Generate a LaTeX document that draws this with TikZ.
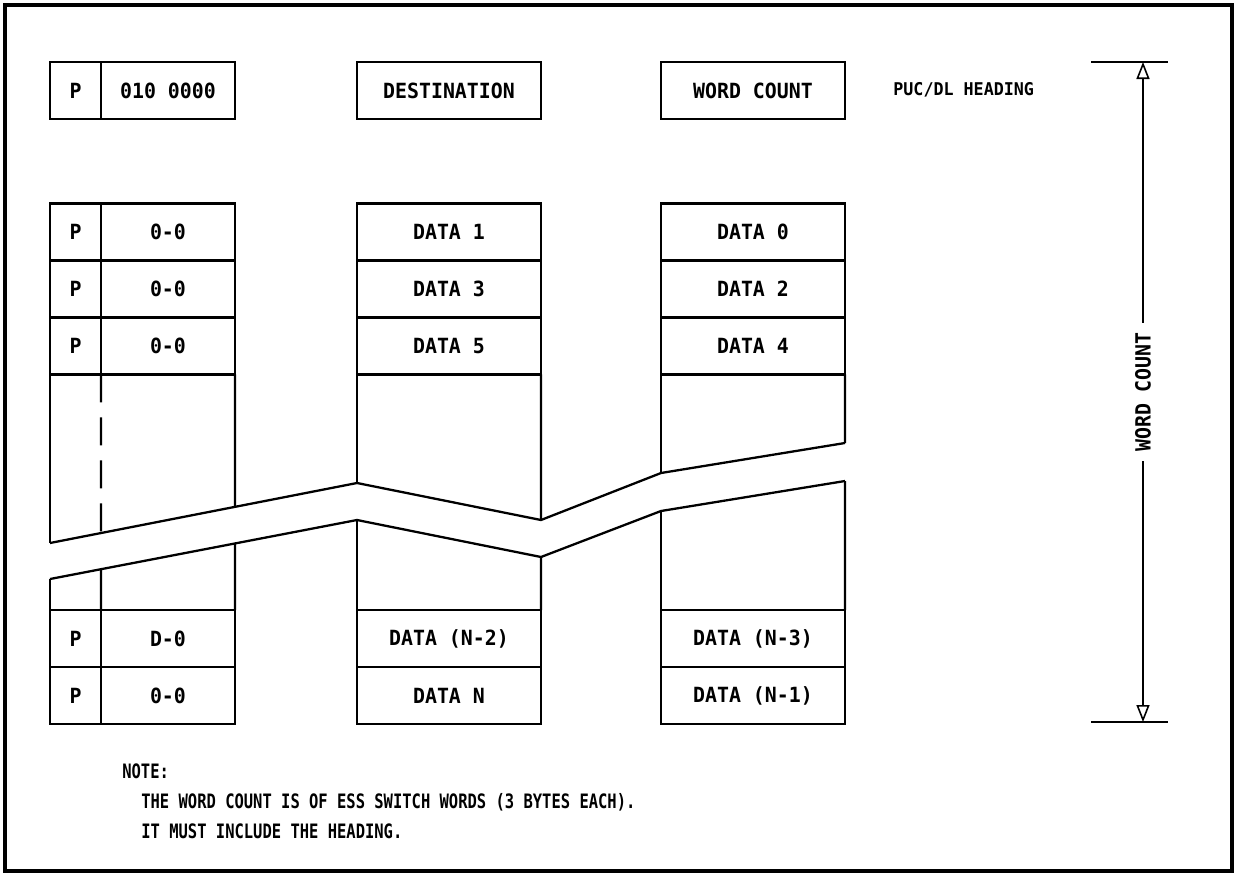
\documentclass[tikz,border=0pt]{standalone}
\usepackage{fontspec}
\newfontfamily\plotfont[FakeStretch=0.95]{DejaVu Sans Mono}
\newfontfamily\notefont[FakeStretch=0.78]{DejaVu Sans Mono}
\usetikzlibrary{arrows.meta, positioning, calc}
\tikzset{
  cell/.style={draw, line width=1.3pt, outer sep=0pt, inner sep=0pt, minimum height=1.14cm,
    font=\plotfont\bfseries\fontsize{11.9}{14}\selectfont},
  bitcell/.style={cell, minimum width=1.02cm},
  valcell/.style={cell, minimum width=2.68cm},
  datacell/.style={cell, minimum width=3.68cm},
  body/.style={line width=1.3pt},
  note/.style={font=\notefont\bfseries\fontsize{11.3}{13}\selectfont, anchor=base west, inner sep=0pt},
  dimlabel/.style={font=\plotfont\bfseries\fontsize{11.9}{14}\selectfont, rotate=90, inner xsep=0.18cm, inner ysep=0pt},
  dimarrow/.style={line width=0.9pt, -{Triangle[open, length=0.34cm, width=0.26cm, line width=0.9pt]}},
}
\begin{document}
\begin{tikzpicture}[x=0.02cm, y=-0.02cm]
  \useasboundingbox (0,0) rectangle (1235,873);
  \draw[line width=2pt] (5,5) rectangle (1232,871);

  \node[bitcell, anchor=north west] (hbit) at (50,62) {P};
  \node[valcell, right=0pt of hbit] (hval) {010 0000};
  \node[datacell, anchor=north west] (hdest) at (357,62) {DESTINATION};
  \node[datacell, anchor=north west] (hcount) at (661,62) {WORD COUNT};
  \node[font=\plotfont\bfseries\fontsize{10}{12}\selectfont, anchor=west, inner sep=0pt] (htitle) at (893,90) {PUC/DL HEADING};

  \node[bitcell, anchor=north west] (bit1) at (50,203.5) {P};
  \node[valcell, right=0pt of bit1] (val1) {0-0};
  \node[bitcell, below=0pt of bit1] (bit2) {P};
  \node[valcell, right=0pt of bit2] (val2) {0-0};
  \node[bitcell, below=0pt of bit2] (bit3) {P};
  \node[valcell, right=0pt of bit3] (val3) {0-0};

  \node[datacell, anchor=north west] (dest1) at (357,203.5) {DATA 1};
  \node[datacell, below=0pt of dest1] (dest3) {DATA 3};
  \node[datacell, below=0pt of dest3] (dest5) {DATA 5};

  \node[datacell, anchor=north west] (cnt0) at (661,203.5) {DATA 0};
  \node[datacell, below=0pt of cnt0] (cnt2) {DATA 2};
  \node[datacell, below=0pt of cnt2] (cnt4) {DATA 4};

  \node[bitcell, anchor=north west] (bitx) at (50,610) {P};
  \node[valcell, right=0pt of bitx] (valx) {D-0};
  \node[bitcell, below=0pt of bitx] (bity) {P};
  \node[valcell, right=0pt of bity] (valy) {0-0};

  \node[datacell, anchor=north west] (destx) at (357,610) {DATA (N-2)};
  \node[datacell, below=0pt of destx] (desty) {DATA N};
  \node[datacell, anchor=north west] (cntx) at (661,610) {DATA (N-3)};
  \node[datacell, below=0pt of cntx] (cnty) {DATA (N-1)};

  % break in the columns
  \coordinate (u0) at (50,543);
  \coordinate (u1) at (357,483);
  \coordinate (u2) at (541,520);
  \coordinate (u3) at (661,473);
  \coordinate (u4) at (845,443);
  \coordinate (l0) at (50,579);
  \coordinate (l1) at (357,520);
  \coordinate (l2) at (541,557);
  \coordinate (l3) at (661,511);
  \coordinate (l4) at (845,481);
  \draw[body] (u0) -- (u1) -- (u2) -- (u3) -- (u4);
  \draw[body] (l0) -- (l1) -- (l2) -- (l3) -- (l4);

  \draw[body] (bit3.south west) -- (u0);
  \draw[body, dash pattern=on 0.56cm off 0.3cm] (bit3.south east) -- ($(u0)!0.1661!(u1)$);
  \draw[body] (val3.south east) -- ($(u0)!0.6026!(u1)$);
  \draw[body] (dest5.south west) -- (u1);
  \draw[body] (dest5.south east) -- (u2);
  \draw[body] (cnt4.south west) -- (u3);
  \draw[body] (cnt4.south east) -- (u4);

  \draw[body] (bitx.north west) -- (l0);
  \draw[body] (bitx.north east) -- ($(l0)!0.1661!(l1)$);
  \draw[body] (valx.north east) -- ($(l0)!0.6026!(l1)$);
  \draw[body] (destx.north west) -- (l1);
  \draw[body] (destx.north east) -- (l2);
  \draw[body] (cntx.north west) -- (l3);
  \draw[body] (cntx.north east) -- (l4);

  % word count dimension
  \coordinate (dtop) at (1143,62);
  \coordinate (dbot) at (1143,722);
  \draw[line width=0.9pt] ($(dtop)+(-52,0)$) -- ($(dtop)+(25,0)$);
  \draw[line width=0.9pt] ($(dbot)+(-52,0)$) -- ($(dbot)+(25,0)$);
  \node[dimlabel] (wclabel) at (1143,392) {WORD COUNT};
  \draw[dimarrow] (wclabel.east) -- (dtop);
  \draw[dimarrow] (wclabel.west) -- (dbot);

  \node[note] (notehead) at (122,778) {NOTE:};
  \node[note] (note1) at (141,808) {THE WORD COUNT IS OF ESS SWITCH WORDS (3 BYTES EACH).};
  \node[note] (note2) at (141,838) {IT MUST INCLUDE THE HEADING.};
\end{tikzpicture}
\end{document}
